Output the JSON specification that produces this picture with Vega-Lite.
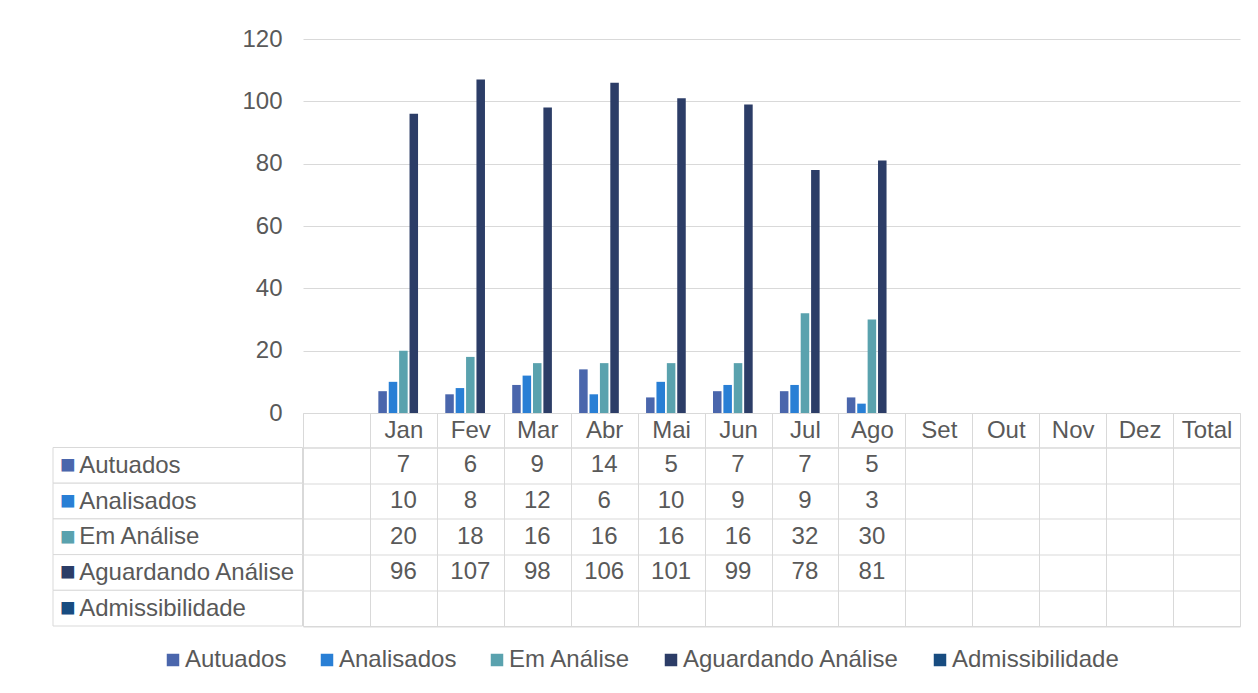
{
  "$schema": "https://vega.github.io/schema/vega-lite/v6.json",
  "padding": {"left": 52, "top": 27, "right": 5, "bottom": 5},
  "background": "white",
  "config": {
    "font": "Liberation Sans",
    "view": {"stroke": null},
    "axis": {"labelColor": "#595959", "labelFontSize": 24}
  },
  "datasets": {
    "dados": [
      {"mes": "Jan", "serie": "Autuados", "valor": 7},
      {"mes": "Jan", "serie": "Analisados", "valor": 10},
      {"mes": "Jan", "serie": "Em Análise", "valor": 20},
      {"mes": "Jan", "serie": "Aguardando Análise", "valor": 96},
      {"mes": "Fev", "serie": "Autuados", "valor": 6},
      {"mes": "Fev", "serie": "Analisados", "valor": 8},
      {"mes": "Fev", "serie": "Em Análise", "valor": 18},
      {"mes": "Fev", "serie": "Aguardando Análise", "valor": 107},
      {"mes": "Mar", "serie": "Autuados", "valor": 9},
      {"mes": "Mar", "serie": "Analisados", "valor": 12},
      {"mes": "Mar", "serie": "Em Análise", "valor": 16},
      {"mes": "Mar", "serie": "Aguardando Análise", "valor": 98},
      {"mes": "Abr", "serie": "Autuados", "valor": 14},
      {"mes": "Abr", "serie": "Analisados", "valor": 6},
      {"mes": "Abr", "serie": "Em Análise", "valor": 16},
      {"mes": "Abr", "serie": "Aguardando Análise", "valor": 106},
      {"mes": "Mai", "serie": "Autuados", "valor": 5},
      {"mes": "Mai", "serie": "Analisados", "valor": 10},
      {"mes": "Mai", "serie": "Em Análise", "valor": 16},
      {"mes": "Mai", "serie": "Aguardando Análise", "valor": 101},
      {"mes": "Jun", "serie": "Autuados", "valor": 7},
      {"mes": "Jun", "serie": "Analisados", "valor": 9},
      {"mes": "Jun", "serie": "Em Análise", "valor": 16},
      {"mes": "Jun", "serie": "Aguardando Análise", "valor": 99},
      {"mes": "Jul", "serie": "Autuados", "valor": 7},
      {"mes": "Jul", "serie": "Analisados", "valor": 9},
      {"mes": "Jul", "serie": "Em Análise", "valor": 32},
      {"mes": "Jul", "serie": "Aguardando Análise", "valor": 78},
      {"mes": "Ago", "serie": "Autuados", "valor": 5},
      {"mes": "Ago", "serie": "Analisados", "valor": 3},
      {"mes": "Ago", "serie": "Em Análise", "valor": 30},
      {"mes": "Ago", "serie": "Aguardando Análise", "valor": 81}
    ],
    "series": [
      {"serie": "Autuados"},
      {"serie": "Analisados"},
      {"serie": "Em Análise"},
      {"serie": "Aguardando Análise"},
      {"serie": "Admissibilidade"}
    ]
  },
  "columns": 2,
  "align": "each",
  "bounds": "flush",
  "spacing": {"row": 34.5, "column": 0},
  "concat": [
    {
      "width": 249.5,
      "height": 374,
      "data": {"values": []},
      "mark": "rect"
    },
    {
      "width": 937,
      "height": 374,
      "data": {"name": "dados"},
      "mark": {"type": "bar"},
      "encoding": {
        "x": {
          "field": "mes", "type": "nominal",
          "scale": {"domain": [" ", "Jan", "Fev", "Mar", "Abr", "Mai", "Jun", "Jul", "Ago", "Set", "Out", "Nov", "Dez", "Total"], "paddingInner": 0, "paddingOuter": 0},
          "axis": {"title": null, "orient": "bottom", "labelAngle": 0, "labelFontSize": 24, "labelColor": "#595959", "labelBaseline": "middle", "labelPadding": -17.1, "ticks": true, "tickBand": "extent", "tickSize": 34.5, "tickColor": "#D9D9D9", "domain": true, "domainColor": "#D9D9D9", "grid": false, "labelOverlap": false}
        },
        "xOffset": {
          "field": "serie",
          "scale": {"domain": ["Autuados", "Analisados", "Em Análise", "Aguardando Análise", "Admissibilidade"], "paddingInner": 0.18, "paddingOuter": 0.81}
        },
        "y": {
          "field": "valor", "type": "quantitative",
          "scale": {"domain": [0, 120], "nice": false},
          "axis": {"title": null, "values": [0, 20, 40, 60, 80, 100, 120], "grid": true, "gridColor": "#D9D9D9", "ticks": false, "domain": false, "labelPadding": 21, "labelFontSize": 24, "labelColor": "#595959"}
        },
        "color": {
          "field": "serie", "type": "nominal",
          "scale": {"domain": ["Autuados", "Analisados", "Em Análise", "Aguardando Análise", "Admissibilidade"], "range": ["#4A66AC", "#297FD5", "#5AA2AE", "#2C3D67", "#184C80"]},
          "legend": {"title": null, "orient": "none", "legendX": 108, "legendY": 609, "direction": "horizontal", "symbolType": "square", "symbolSize": 156, "symbolStrokeWidth": 0, "labelFontSize": 24, "labelColor": "#595959", "labelOffset": 0, "columnPadding": 28, "padding": 0, "labelLimit": 0}
        }
      }
    },
    {
      "width": 249.5,
      "height": 178.5,
      "data": {"name": "series"},
      "mark": {"type": "rect", "fill": "white", "stroke": "#D9D9D9", "strokeWidth": 1},
      "encoding": {
        "y": {
          "field": "serie", "type": "nominal",
          "scale": {"domain": ["Autuados", "Analisados", "Em Análise", "Aguardando Análise", "Admissibilidade"], "paddingInner": 0, "paddingOuter": 0},
          "axis": {
            "title": null, "labelExpr": "'■'", "labelAlign": "left", "labelBaseline": "middle", "labelPadding": -6.5, "labelFontSize": 26, "ticks": false, "domain": false, "grid": false,
            "labelColor": {"condition": [
              {"test": "datum.value === 'Autuados'", "value": "#4A66AC"},
              {"test": "datum.value === 'Analisados'", "value": "#297FD5"},
              {"test": "datum.value === 'Em Análise'", "value": "#5AA2AE"},
              {"test": "datum.value === 'Aguardando Análise'", "value": "#2C3D67"}
            ], "value": "#184C80"}
          }
        }
      }
    },
    {
      "width": 937,
      "height": 178.5,
      "view": {"stroke": "#D9D9D9"},
      "data": {"name": "dados"},
      "mark": {"type": "text", "fontSize": 24, "color": "#595959", "baseline": "middle", "align": "center"},
      "encoding": {
        "x": {
          "field": "mes", "type": "nominal",
          "scale": {"domain": [" ", "Jan", "Fev", "Mar", "Abr", "Mai", "Jun", "Jul", "Ago", "Set", "Out", "Nov", "Dez", "Total"], "paddingInner": 0, "paddingOuter": 0},
          "axis": {"title": null, "orient": "top", "labels": false, "ticks": false, "domain": false, "grid": true, "tickBand": "extent", "gridColor": "#D9D9D9"}
        },
        "y": {
          "field": "serie", "type": "nominal",
          "scale": {"domain": ["Autuados", "Analisados", "Em Análise", "Aguardando Análise", "Admissibilidade"], "paddingInner": 0, "paddingOuter": 0},
          "axis": {"title": null, "labelAlign": "left", "labelBaseline": "middle", "labelPadding": 224.3, "labelLimit": 0, "ticks": false, "domain": false, "grid": true, "tickBand": "extent", "gridColor": "#D9D9D9", "labelFontSize": 24, "labelColor": "#595959"}
        },
        "text": {"field": "valor", "type": "quantitative"}
      }
    }
  ]
}
